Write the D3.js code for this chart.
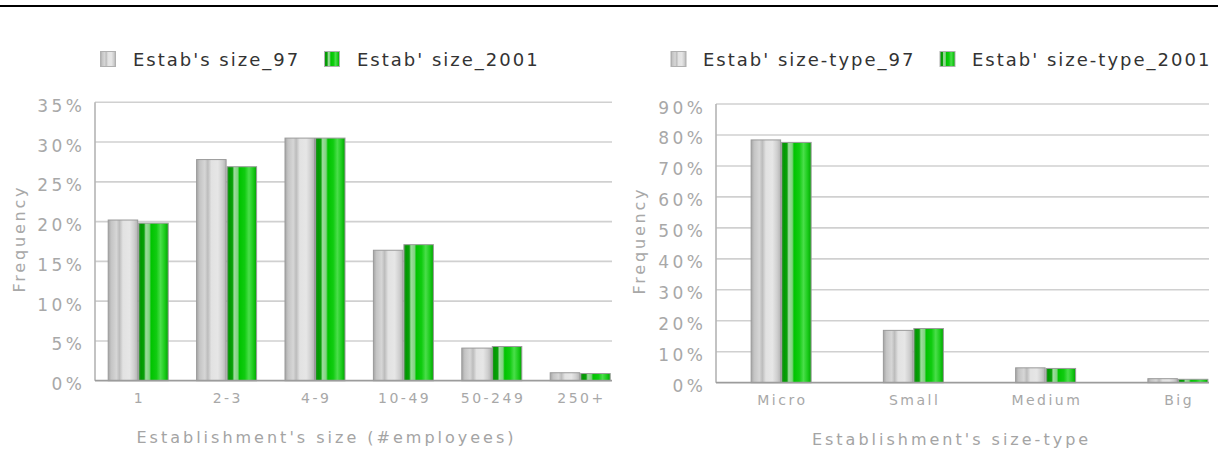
<!DOCTYPE html>
<html>
<head>
<meta charset="utf-8">
<script src="https://cdn.jsdelivr.net/npm/d3@7"></script>
<style>
  html, body { margin: 0; padding: 0; background: #fff; }
  svg { display: block; }
  text { font-family: "DejaVu Sans", Verdana, sans-serif; }
</style>
</head>
<body>
<svg id="chart" width="1218" height="452"></svg>
<script>
// ---- data ----
const sizeCategories = ["1", "2-3", "4-9", "10-49", "50-249", "250+"];
const size97   = [20.2, 27.8, 30.5, 16.4, 4.1, 1.0];
const size2001 = [19.8, 26.9, 30.5, 17.1, 4.3, 0.9];
const sizeTicks = [0, 5, 10, 15, 20, 25, 30, 35];
const sizeSeriesNames = ["Estab's size_97", "Estab' size_2001"];

const typeCategories = ["Micro", "Small", "Medium", "Big"];
const type97   = [78.4, 16.9, 4.8, 1.3];
const type2001 = [77.6, 17.5, 4.6, 1.1];
const typeTicks = [0, 10, 20, 30, 40, 50, 60, 70, 80, 90];
const typeSeriesNames = ["Estab' size-type_97", "Estab' size-type_2001"];

const svg = d3.select("#chart");
svg.append("rect").attr("width", 1218).attr("height", 452).attr("fill", "#fff");

// top rule
svg.append("line").attr("x1", 0).attr("x2", 1218).attr("y1", 6).attr("y2", 6)
  .attr("stroke", "#000").attr("stroke-width", 2);

// gradients
const defs = svg.append("defs");
function grad(id, stops) {
  const g = defs.append("linearGradient").attr("id", id)
    .attr("x1", "0%").attr("x2", "100%").attr("y1", "0%").attr("y2", "0%");
  stops.forEach(([o, c]) => g.append("stop").attr("offset", o).attr("stop-color", c));
}
grad("gGray", [[0, "#a4a4a4"], [0.1, "#c4c4c4"], [0.28, "#d6d6d6"], [0.38, "#bcbcbc"], [0.5, "#e2e2e2"],
               [0.72, "#e6e6e6"], [0.88, "#cfcfcf"], [1, "#b4b4b4"]]);
grad("gGreen", [[0, "#2f8f2f"], [0.08, "#009a00"], [0.18, "#0aa00a"], [0.24, "#9edc9e"], [0.36, "#7fd27f"],
                [0.42, "#00c400"], [0.6, "#10cc10"], [0.74, "#4ade4a"], [0.88, "#1ccc1c"], [1, "#00a600"]]);

function drawChart(cfg) {
  const g = svg.append("g");
  const x = d3.scaleBand().domain(cfg.categories).range(cfg.bandRange).padding(0);
  const y = d3.scaleLinear().domain([0, d3.max(cfg.ticks)]).range([cfg.y0, cfg.y1]);

  // gridlines
  g.selectAll(".grid").data(cfg.ticks.filter(t => t > 0)).enter().append("line")
    .attr("x1", cfg.plotX0).attr("x2", cfg.plotX1)
    .attr("y1", d => y(d)).attr("y2", d => y(d))
    .attr("stroke", "#d0d0d0").attr("stroke-width", 1.6);

  // y axis line
  g.append("line").attr("x1", cfg.plotX0).attr("x2", cfg.plotX0)
    .attr("y1", y(d3.max(cfg.ticks))).attr("y2", y(0))
    .attr("stroke", "#b4b4b4").attr("stroke-width", 1.6);

  // y tick labels
  const yls = 3.5;
  g.selectAll(".yt").data(cfg.ticks).enter().append("text")
    .attr("x", cfg.plotX0 - 13 + yls).attr("y", d => y(d) + 9.5)
    .attr("text-anchor", "end").attr("font-size", 17).attr("letter-spacing", yls)
    .attr("fill", "#a8a8a8").text(d => d + "%");

  // bars
  const bw = 29.5;
  const series = [
    { vals: cfg.s1, fill: "url(#gGray)", off: -30 },
    { vals: cfg.s2, fill: "url(#gGreen)", off: 0.5 }
  ];
  series.forEach(s => {
    g.selectAll(null).data(cfg.categories).enter().append("rect")
      .attr("x", (d) => x(d) + x.bandwidth() / 2 + s.off)
      .attr("width", bw)
      .attr("y", (d, i) => y(s.vals[i]))
      .attr("height", (d, i) => y(0) - y(s.vals[i]))
      .attr("fill", s.fill)
      .attr("stroke", "#9a9a9a").attr("stroke-width", 1);
  });

  // baseline
  g.append("line").attr("x1", cfg.plotX0).attr("x2", cfg.plotX1)
    .attr("y1", y(0)).attr("y2", y(0))
    .attr("stroke", "#9c9c9c").attr("stroke-width", 1.8);

  // x tick labels
  const xls = 2.5;
  g.selectAll(".xt").data(cfg.categories).enter().append("text")
    .attr("x", d => x(d) + x.bandwidth() / 2 + xls / 2)
    .attr("y", y(0) + 22)
    .attr("text-anchor", "middle").attr("font-size", 14).attr("letter-spacing", xls)
    .attr("fill", "#a8a8a8").text(d => d);

  // x title
  g.append("text").attr("x", cfg.titleX + 1.5).attr("y", y(0) + 62)
    .attr("text-anchor", "middle").attr("font-size", 16).attr("letter-spacing", 3)
    .attr("fill", "#a4a4a4").text(cfg.xTitle);

  // y title
  g.append("text").attr("transform", `translate(${cfg.freqX},${cfg.freqY}) rotate(-90)`)
    .attr("text-anchor", "middle").attr("font-size", 16).attr("letter-spacing", 2.8)
    .attr("dx", 1.4)
    .attr("fill", "#a8a8a8").text("Frequency");

  // legend
  const leg = [
    { name: cfg.names[0], fill: "url(#gGray)", sx: cfg.legend[0], tx: cfg.legend[1] },
    { name: cfg.names[1], fill: "url(#gGreen)", sx: cfg.legend[2], tx: cfg.legend[3] }
  ];
  leg.forEach(l => {
    g.append("rect").attr("x", l.sx).attr("y", 51.5).attr("width", 15).attr("height", 15)
      .attr("fill", l.fill).attr("stroke", "#b0b0b0").attr("stroke-width", 1);
    g.append("text").attr("x", l.tx).attr("y", 66).attr("font-size", 18).attr("letter-spacing", 2)
      .attr("fill", "#333").text(l.name);
  });
}

drawChart({
  categories: sizeCategories, s1: size97, s2: size2001, ticks: sizeTicks, names: sizeSeriesNames,
  bandRange: [94, 624.4], plotX0: 95, plotX1: 612, y0: 380.7, y1: 102.3,
  xTitle: "Establishment's size (#employees)", titleX: 325, freqX: 25, freqY: 240,
  legend: [100.5, 133, 324.5, 357]
});

drawChart({
  categories: typeCategories, s1: type97, s2: type2001, ticks: typeTicks, names: typeSeriesNames,
  bandRange: [715, 1244], plotX0: 716, plotX1: 1209, y0: 382.7, y1: 104,
  xTitle: "Establishment's size-type", titleX: 950, freqX: 645, freqY: 242,
  legend: [671, 703, 940, 972]
});
</script>
</body>
</html>
